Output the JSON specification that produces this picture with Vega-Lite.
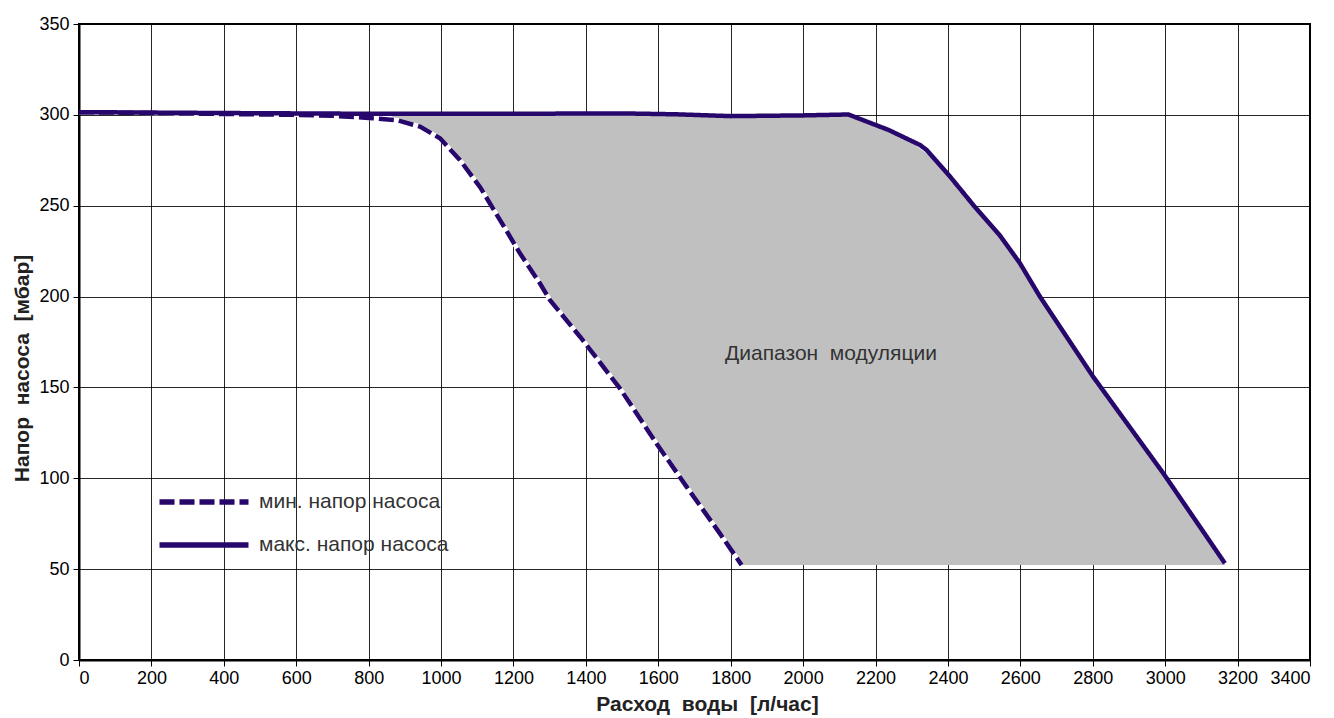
{
  "$schema": "https://vega.github.io/schema/vega-lite/v6.json",
  "autosize": "none",
  "width": 1231,
  "height": 636,
  "padding": {"left": 79, "top": 24, "right": 24, "bottom": 58},
  "background": "white",
  "config": {
    "font": "Liberation Sans",
    "view": {"stroke": "black", "strokeWidth": 2},
    "axis": {
      "grid": true,
      "gridColor": "#000000",
      "gridWidth": 1,
      "gridOpacity": 0.85,
      "domainColor": "#000000",
      "domainWidth": 2,
      "tickColor": "#000000",
      "tickSize": 6,
      "labelFont": "Liberation Sans",
      "labelFontSize": 18,
      "labelColor": "#000000",
      "titleFont": "Liberation Sans",
      "titleFontSize": 21,
      "titleFontWeight": "bold",
      "titleColor": "#222222"
    }
  },
  "datasets": {
    "curves": [
      {"series": "мин. напор насоса", "x": 0, "y": 301.5},
      {"series": "мин. напор насоса", "x": 200, "y": 301},
      {"series": "мин. напор насоса", "x": 400, "y": 300.5},
      {"series": "мин. напор насоса", "x": 600, "y": 300},
      {"series": "мин. напор насоса", "x": 700, "y": 299.5},
      {"series": "мин. напор насоса", "x": 800, "y": 298.3},
      {"series": "мин. напор насоса", "x": 880, "y": 297},
      {"series": "мин. напор насоса", "x": 942, "y": 293.5},
      {"series": "мин. напор насоса", "x": 997, "y": 287.1},
      {"series": "мин. напор насоса", "x": 1052, "y": 275.2},
      {"series": "мин. напор насоса", "x": 1107, "y": 260.5},
      {"series": "мин. напор насоса", "x": 1163, "y": 242.1},
      {"series": "мин. напор насоса", "x": 1218, "y": 223.8},
      {"series": "мин. напор насоса", "x": 1273, "y": 207.3},
      {"series": "мин. напор насоса", "x": 1301, "y": 198},
      {"series": "мин. напор насоса", "x": 1384, "y": 177.9},
      {"series": "мин. напор насоса", "x": 1494, "y": 149.5},
      {"series": "мин. напор насоса", "x": 1595, "y": 119.2},
      {"series": "мин. напор насоса", "x": 1678, "y": 95.4},
      {"series": "мин. напор насоса", "x": 1770, "y": 69.7},
      {"series": "мин. напор насоса", "x": 1830, "y": 52.3},
      {"series": "макс. напор насоса", "x": 0, "y": 301.5},
      {"series": "макс. напор насоса", "x": 400, "y": 301},
      {"series": "макс. напор насоса", "x": 800, "y": 300.6},
      {"series": "макс. напор насоса", "x": 1200, "y": 300.6},
      {"series": "макс. напор насоса", "x": 1500, "y": 300.8},
      {"series": "макс. напор насоса", "x": 1650, "y": 300.3},
      {"series": "макс. напор насоса", "x": 1800, "y": 299.3},
      {"series": "макс. напор насоса", "x": 2000, "y": 299.7},
      {"series": "макс. напор насоса", "x": 2125, "y": 300.2},
      {"series": "макс. напор насоса", "x": 2236, "y": 291.7},
      {"series": "макс. напор насоса", "x": 2323, "y": 283.4},
      {"series": "макс. напор насоса", "x": 2341, "y": 280.7},
      {"series": "макс. напор насоса", "x": 2406, "y": 266},
      {"series": "макс. напор насоса", "x": 2470, "y": 250.4},
      {"series": "макс. напор насоса", "x": 2544, "y": 233.5},
      {"series": "макс. напор насоса", "x": 2599, "y": 218.3},
      {"series": "макс. напор насоса", "x": 2654, "y": 200},
      {"series": "макс. напор насоса", "x": 2801, "y": 155.9},
      {"series": "макс. напор насоса", "x": 2995, "y": 102.7},
      {"series": "макс. напор насоса", "x": 3165, "y": 53.2}
    ],
    "band": [
      {"h": 52.3, "xmin": 1830, "xmax": 3167},
      {"h": 70, "xmin": 1770, "xmax": 3107},
      {"h": 95, "xmin": 1678, "xmax": 3021},
      {"h": 119, "xmin": 1595, "xmax": 2936},
      {"h": 150, "xmin": 1494, "xmax": 2822},
      {"h": 178, "xmin": 1384, "xmax": 2727},
      {"h": 198, "xmin": 1301, "xmax": 2661},
      {"h": 207, "xmin": 1273, "xmax": 2633},
      {"h": 224, "xmin": 1218, "xmax": 2578},
      {"h": 242, "xmin": 1163, "xmax": 2507},
      {"h": 260, "xmin": 1107, "xmax": 2431},
      {"h": 275, "xmin": 1052, "xmax": 2366},
      {"h": 287, "xmin": 997, "xmax": 2285},
      {"h": 293.5, "xmin": 942, "xmax": 2212},
      {"h": 297.5, "xmin": 880, "xmax": 2158},
      {"h": 300.5, "xmin": 850, "xmax": 2125}
    ],
    "note": [
      {"x": 2077, "y": 168.4, "label": "Диапазон\u00a0 модуляции"}
    ]
  },
  "layer": [
    {
      "data": {"name": "band"},
      "mark": {"type": "area", "orient": "horizontal", "color": "#C0C0C0", "opacity": 1},
      "encoding": {
        "y": {"field": "h", "type": "quantitative"},
        "x": {"field": "xmin", "type": "quantitative"},
        "x2": {"field": "xmax"}
      }
    },
    {
      "data": {"name": "curves"},
      "transform": [{"filter": "datum.series == 'мин. напор насоса'"}],
      "mark": {"type": "line", "color": "white", "strokeWidth": 4.5},
      "encoding": {
        "x": {"field": "x", "type": "quantitative"},
        "y": {"field": "y", "type": "quantitative"}
      }
    },
    {
      "data": {"name": "curves"},
      "mark": {"type": "line", "strokeWidth": 4.5, "strokeCap": "butt"},
      "encoding": {
        "x": {
          "field": "x", "type": "quantitative",
          "scale": {"domain": [0, 3400], "nice": false},
          "axis": {"values": [0,200,400,600,800,1000,1200,1400,1600,1800,2000,2200,2400,2600,2800,3000,3200,3400], "format": "d", "title": "Расход\u00a0 воды\u00a0 [л/час]", "labelPadding": 3, "titlePadding": 6, "titleX": 628}
        },
        "y": {
          "field": "y", "type": "quantitative",
          "scale": {"domain": [0, 350], "nice": false},
          "axis": {"values": [0,50,100,150,200,250,300,350], "format": "d", "title": "Напор\u00a0 насоса\u00a0 [мбар]", "labelPadding": 4, "titlePadding": 6, "titleY": 344}
        },
        "color": {
          "field": "series", "type": "nominal",
          "scale": {"domain": ["мин. напор насоса", "макс. напор насоса"], "range": ["#27076B", "#27076B"]},
          "legend": {
            "title": null,
            "orient": "none",
            "legendX": 100,
            "legendY": 453,
            "symbolType": "M-2,0L2,0",
            "symbolSize": 1980,
            "symbolStrokeWidth": 5.5,
            "labelFontSize": 21,
            "labelLimit": 500,
            "labelColor": "#333333",
            "labelFont": "Liberation Sans",
            "labelOffset": 30,
            "rowPadding": 7
          }
        },
        "strokeDash": {
          "field": "series", "type": "nominal",
          "scale": {"domain": ["мин. напор насоса", "макс. напор насоса"], "range": [[15, 5], [1, 0]]},
          "legend": {
            "title": null,
            "orient": "none",
            "legendX": 100,
            "legendY": 453,
            "symbolType": "M-2,0L2,0",
            "symbolSize": 1980,
            "symbolStrokeWidth": 5.5,
            "labelFontSize": 21,
            "labelLimit": 500,
            "labelColor": "#333333",
            "labelFont": "Liberation Sans",
            "labelOffset": 30,
            "rowPadding": 7
          }
        }
      }
    },
    {
      "data": {"name": "note"},
      "mark": {"type": "text", "fontSize": 21, "color": "#333333", "font": "Liberation Sans"},
      "encoding": {
        "x": {"field": "x", "type": "quantitative"},
        "y": {"field": "y", "type": "quantitative"},
        "text": {"field": "label"}
      }
    }
  ]
}
